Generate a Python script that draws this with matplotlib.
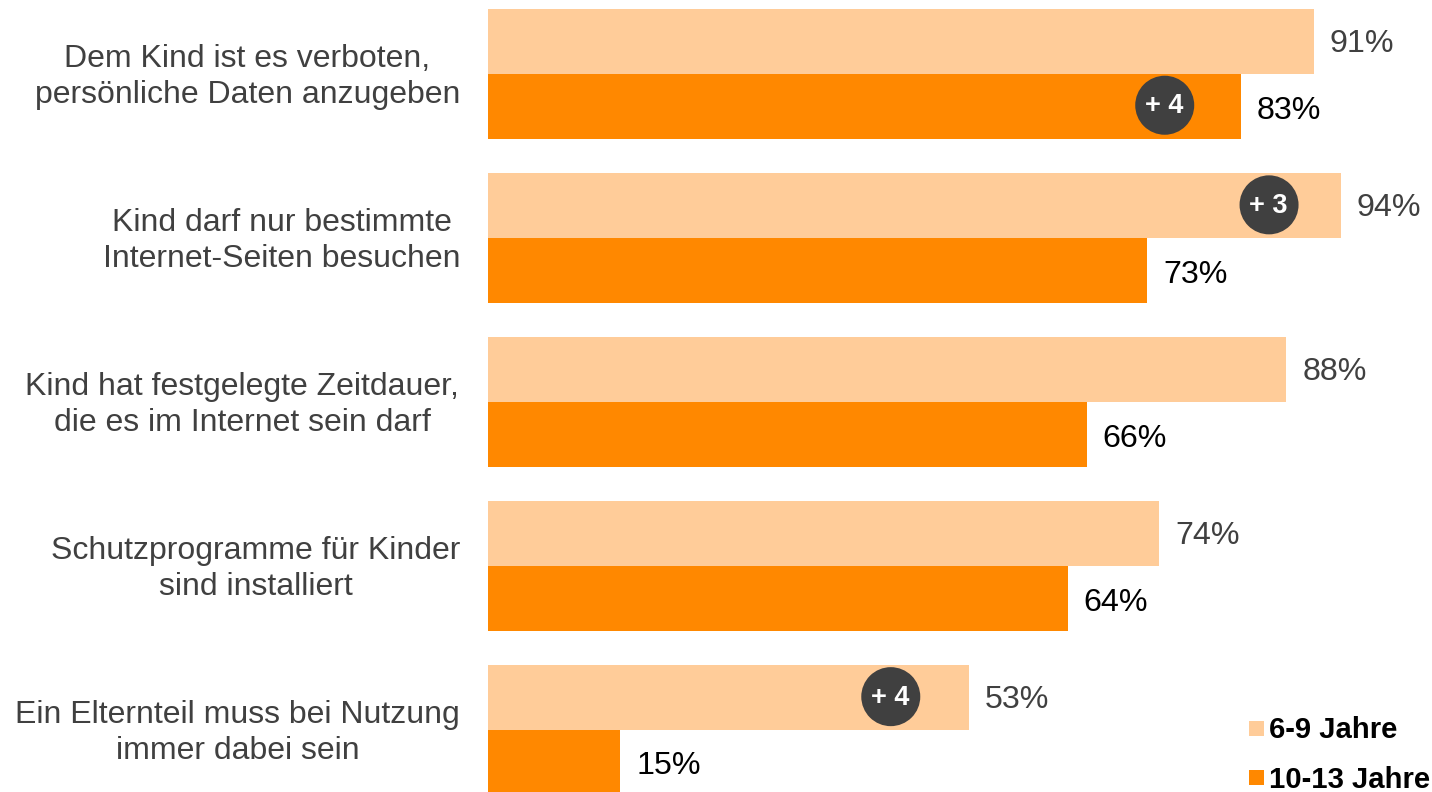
import matplotlib
matplotlib.use("Agg")
import matplotlib.pyplot as plt
from matplotlib.patches import Circle, Rectangle

plt.rcParams['font.family'] = ['Liberation Sans', 'DejaVu Sans']

categories = ["Dem Kind ist es verboten,\npersönliche Daten anzugeben",
              "Kind darf nur bestimmte \nInternet-Seiten besuchen",
              "Kind hat festgelegte Zeitdauer,\ndie es im Internet sein darf",
              "Schutzprogramme für Kinder\nsind installiert",
              "Ein Elternteil muss bei Nutzung\nimmer dabei sein"]
young = [91, 94, 88, 74, 53]
older = [83, 72.7, 66, 63.9, 14.6]
series_names = ["6-9 Jahre", "10-13 Jahre"]
badges = ["+ 4", "+ 3", None, None, "+ 4"]
badge_series = [1, 0, None, None, 0]
badge_values = [74.6, 86.1, None, None, 44.4]

W, H = 1432, 792
fig = plt.figure(figsize=(W/100, H/100), dpi=100, facecolor="white")
ax = fig.add_axes([0, 0, 1, 1])
ax.set_xlim(0, W); ax.set_ylim(H, 0); ax.axis("off")

x0 = 488.0
scale = (1313.5 - 488) / 91
tops = [8.8, 172.7, 336.7, 500.7, 664.5]
bh = 65.3
light = "#FFCC99"; dark = "#FF8800"; grey = "#404040"
fs = 23.2
lfs = 23.0

for i, cat in enumerate(categories):
    t = tops[i]
    ax.barh(t + bh/2, young[i]*scale, height=bh, left=x0, color=light, lw=0)
    ax.barh(t + bh*1.5, older[i]*scale, height=bh, left=x0, color=dark, lw=0)
    ax.text(x0 + young[i]*scale + 16, t + bh/2 + 3, f"{round(young[i])}%", fontsize=fs, color=grey, va="center", ha="left")
    ax.text(x0 + older[i]*scale + 16, t + bh*1.5 + 4, f"{round(older[i])}%", fontsize=fs, color="black", va="center", ha="left")
    a, b = cat.split("\n")
    cx = [247.5, 281.5, 242, 255.5, 237.5][i]
    ax.text(cx + (0.3 if i == 1 else 0), t + 50.5, a.strip(), fontsize=lfs, color=grey, va="center", ha="center")
    ax.text(cx, t + 86.5, b, fontsize=lfs, color=grey, va="center", ha="center")
    if badges[i]:
        bx = x0 + badge_values[i]*scale
        by = t + (bh*1.5 - 1.5 if badge_series[i] == 1 else bh/2 - 0.5)
        ax.add_patch(Circle((bx, by), 29.5, color=grey, lw=0, zorder=3))
        ax.text(bx - 0.5, by + 1, badges[i], fontsize=19.5, fontweight="bold", color="white", va="center", ha="center", zorder=4)

for y, c, name in [(728, light, series_names[0]), (777, dark, series_names[1])]:
    ax.add_patch(Rectangle((1249, y-7.5), 15, 15, color=c, lw=0))
    ax.text(1269, y + 2.5, name, fontsize=21.1, fontweight="bold", color="black", va="center", ha="left")

fig.savefig("out.png", dpi=100)
